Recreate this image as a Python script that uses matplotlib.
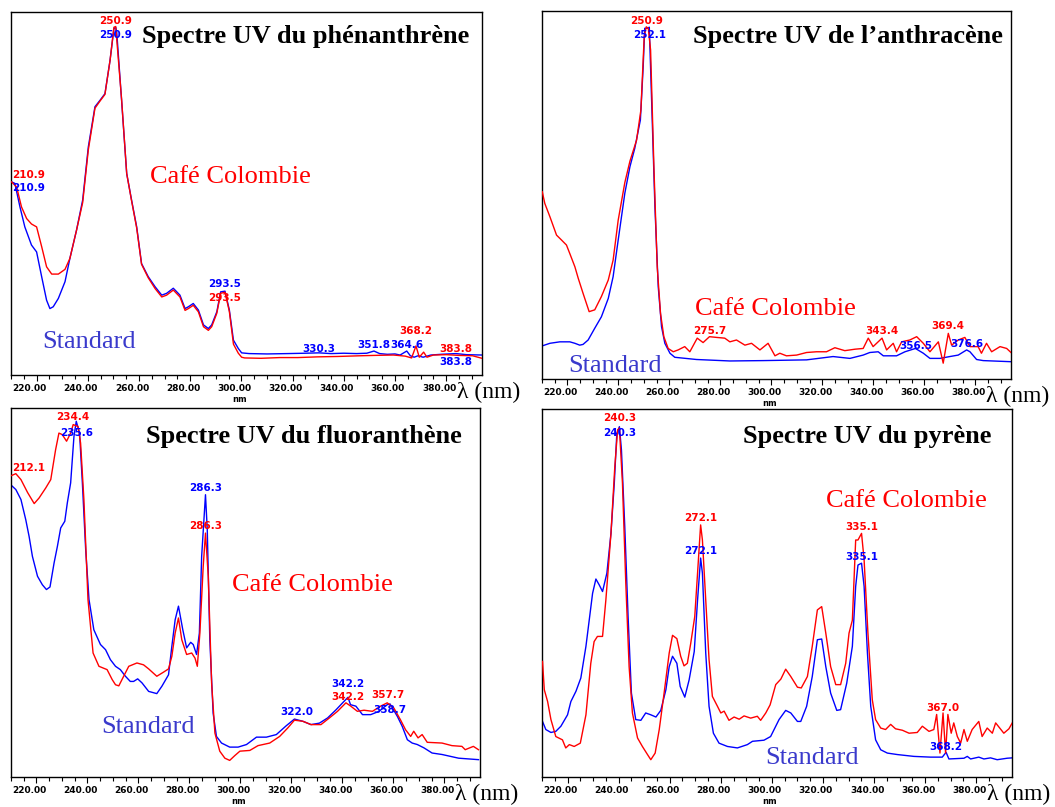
import matplotlib
matplotlib.use("Agg")
import matplotlib.pyplot as plt
from matplotlib.ticker import MultipleLocator
from matplotlib.transforms import ScaledTranslation

# ---------------- data ----------------
xtick_values = [220, 240, 260, 280, 300, 320, 340, 360, 380]
xtick_labels = ["220.00", "240.00", "260.00", "280.00", "300.00",
                "320.00", "340.00", "360.00", "380.00"]

# Phénanthrène
phen_std_wl = [210.2, 211.5, 213.5, 215.4, 218.0, 220.0, 222.0, 223.9, 225.2, 226.5, 228.5, 231.1,
               233.0, 235.6, 238.0, 240.2, 242.8, 244.8, 246.7, 248.7, 250.2, 250.9, 251.3, 253.2,
               255.2, 257.1, 259.1, 261.0, 263.6, 266.3, 268.9, 270.8, 273.4, 276.0, 278.0, 279.3,
               281.2, 283.2, 285.2, 287.1, 288.4, 290.4, 291.9, 293.6, 295.3, 296.9, 298.8, 300.1,
               303.0, 310.0, 318.0, 325.0, 330.3, 335.0, 340.0, 345.0, 349.0, 351.8, 354.0, 357.0,
               360.0, 362.0, 364.6, 366.0, 367.5, 369.0, 371.0, 374.0, 378.0, 383.8, 388.0, 394.0]
phen_std_abs = [53.2, 52.8, 46.3, 40.8, 35.8, 33.9, 27.0, 20.6, 18.3, 18.8, 21.1, 25.7,
                32.1, 39.9, 48.2, 62.8, 73.9, 75.7, 77.5, 86.7, 95.4, 95.8, 94.5, 75.7,
                55.5, 48.2, 40.8, 30.7, 27.1, 24.3, 22.0, 22.5, 23.9, 22.0, 18.3, 18.8,
                19.7, 17.9, 13.8, 12.8, 13.8, 17.4, 22.9, 23.1, 17.9, 9.6, 7.3, 6.1,
                5.9, 5.8, 5.9, 6.0, 6.1, 5.9, 6.0, 5.9, 6.0, 6.6, 5.9, 5.7,
                5.8, 5.5, 6.6, 5.3, 4.9, 5.3, 4.9, 5.5, 5.7, 5.9, 5.6, 5.5]
phen_cafe_wl = [210.2, 212.2, 214.1, 216.1, 218.0, 220.0, 222.0, 223.9, 225.9, 228.5, 231.1, 233.0,
                235.6, 238.0, 240.2, 242.8, 244.8, 246.7, 248.7, 250.2, 250.9, 253.2, 255.2, 257.1,
                259.1, 261.0, 263.6, 266.3, 268.9, 270.8, 273.4, 276.0, 278.0, 279.3, 281.2, 283.2,
                285.2, 287.1, 288.4, 290.4, 291.9, 293.6, 295.3, 296.9, 298.8, 300.1, 301.3, 307.7,
                315.0, 322.0, 330.0, 337.4, 346.5, 352.0, 359.4, 364.0, 366.5, 368.2, 369.5, 371.2,
                372.5, 375.0, 380.0, 385.0, 390.3, 394.0]
phen_cafe_abs = [53.2, 51.8, 46.3, 43.1, 41.6, 40.8, 35.3, 29.8, 27.8, 27.8, 29.1, 32.1,
                 39.9, 47.5, 62.0, 73.5, 75.5, 77.3, 86.7, 95.8, 96.0, 76.0, 55.5, 48.0,
                 40.5, 30.5, 26.8, 23.8, 21.5, 22.0, 23.4, 21.5, 17.8, 18.3, 19.2, 17.4,
                 13.3, 12.3, 13.3, 17.0, 22.5, 22.8, 17.5, 8.5, 6.0, 4.9, 4.7, 4.6,
                 4.8, 4.8, 5.0, 5.1, 5.3, 5.4, 5.5, 5.2, 4.7, 8.0, 4.9, 6.3,
                 4.9, 5.5, 5.6, 5.4, 5.3, 4.6]

# Anthracène
anth_std_wl = [210.1, 213.1, 217.0, 220.9, 222.9, 224.8, 226.1, 228.1, 230.7, 233.3, 236.0, 237.9,
               239.9, 242.5, 244.5, 246.4, 248.6, 249.7, 250.3, 251.3, 252.1, 253.0, 254.3, 255.6,
               256.9, 258.2, 260.2, 262.1, 270.6, 283.7, 296.8, 313.8, 324.2, 330.8, 336.0, 338.6,
               341.9, 343.9, 349.1, 352.4, 356.5, 359.6, 362.2, 366.1, 370.0, 373.3, 376.6, 377.9,
               380.5, 383.1, 394.0]
anth_std_abs = [9.0, 9.7, 10.1, 10.1, 9.7, 9.2, 9.4, 10.6, 13.8, 16.9, 21.9, 27.8,
                37.8, 50.5, 57.7, 62.7, 70.4, 84.9, 95.3, 95.3, 95.6, 75.8, 46.8, 25.1,
                14.2, 9.7, 7.0, 5.9, 5.3, 4.9, 5.0, 5.2, 6.1, 5.6, 6.5, 7.2,
                7.4, 6.3, 6.3, 7.4, 8.3, 7.0, 5.6, 5.6, 6.1, 6.5, 7.9, 7.4,
                5.3, 5.0, 4.7]
anth_cafe_wl = [210.1, 211.1, 213.1, 215.7, 217.6, 219.6, 220.9, 222.9, 224.2, 226.1, 228.5, 230.7,
                233.3, 236.0, 237.9, 239.9, 242.5, 244.5, 247.1, 248.8, 250.1, 250.9, 251.7, 252.6,
                253.9, 255.2, 256.5, 257.8, 259.5, 261.5, 263.4, 266.0, 268.0, 270.9, 273.2, 275.7,
                278.5, 281.7, 283.7, 286.3, 289.6, 292.2, 295.5, 298.7, 301.4, 303.3, 305.9, 309.9,
                313.8, 317.7, 321.6, 324.9, 328.8, 332.8, 336.0, 338.0, 339.9, 343.4, 345.2, 347.8,
                349.1, 351.1, 354.3, 357.0, 359.6, 362.2, 365.5, 367.4, 369.4, 370.7, 373.3, 375.9,
                377.9, 381.1, 382.4, 384.4, 386.4, 389.7, 392.3, 394.0]
anth_cafe_abs = [50.9, 47.7, 44.1, 39.1, 37.8, 36.4, 34.1, 30.5, 27.4, 23.3, 18.3, 18.8,
                 22.4, 26.9, 32.3, 43.2, 53.4, 59.2, 64.9, 73.1, 93.0, 95.7, 95.3, 89.4,
                 57.7, 30.5, 17.8, 11.5, 8.3, 7.4, 7.9, 8.8, 7.4, 11.1, 9.9, 11.5,
                 11.3, 11.1, 10.1, 10.6, 9.2, 9.7, 7.9, 9.7, 6.3, 7.0, 6.3, 6.5,
                 7.2, 7.4, 7.4, 8.5, 7.7, 8.1, 8.3, 11.1, 8.8, 11.1, 7.9, 9.7,
                 7.4, 10.1, 10.6, 11.5, 9.7, 7.4, 10.1, 4.3, 12.4, 9.2, 10.6, 11.3,
                 8.8, 8.8, 7.0, 9.7, 7.4, 8.8, 8.3, 7.2]

# Fluoranthène
fluo_std_wl = [210.2, 211.9, 213.9, 215.8, 217.1, 218.4, 220.4, 222.3, 223.9, 225.3, 226.9, 228.2,
               229.5, 231.1, 232.1, 233.4, 234.7, 235.6, 236.9, 238.0, 239.3, 240.6, 242.5, 245.1,
               247.1, 249.0, 251.0, 252.9, 254.9, 256.8, 258.1, 259.7, 261.4, 264.0, 267.2, 269.2,
               271.8, 273.1, 274.4, 275.7, 277.4, 278.9, 280.5, 281.5, 282.8, 283.9, 284.8, 286.3,
               287.0, 288.0, 289.3, 290.6, 292.6, 295.8, 299.1, 302.4, 306.3, 310.2, 314.1, 318.0,
               321.2, 324.5, 327.7, 331.0, 334.2, 337.5, 340.1, 342.2, 343.2, 345.3, 347.9, 351.1,
               354.4, 357.6, 358.7, 361.6, 363.5, 365.5, 367.4, 369.4, 372.0, 375.2, 379.1, 385.6,
               393.4]
fluo_std_abs = [79.0, 77.9, 75.2, 69.7, 65.2, 59.8, 54.4, 52.1, 50.8, 51.5, 58.0, 62.5,
                67.5, 69.3, 74.3, 79.7, 92.3, 96.4, 93.2, 79.7, 61.6, 48.1, 39.9, 35.9,
                34.5, 31.8, 30.0, 29.1, 27.3, 25.9, 25.9, 26.6, 25.5, 23.2, 22.6, 24.6,
                27.7, 35.4, 42.6, 46.3, 39.9, 35.0, 36.5, 35.9, 33.2, 39.0, 59.8, 76.5,
                67.0, 37.2, 17.3, 11.0, 9.2, 8.1, 8.1, 8.8, 10.8, 10.8, 11.5, 13.9,
                15.7, 15.1, 14.2, 14.6, 16.0, 18.2, 20.1, 21.6, 19.6, 19.2, 16.9, 16.9,
                17.8, 19.6, 19.8, 16.4, 13.7, 10.1, 9.2, 8.8, 7.9, 6.5, 6.1, 5.1,
                4.7]
fluo_cafe_wl = [210.2, 211.9, 213.9, 216.5, 219.1, 221.0, 223.6, 225.6, 227.5, 228.8, 230.1, 231.8,
                233.4, 234.4, 236.3, 237.3, 238.6, 240.2, 242.2, 244.5, 247.7, 249.7, 251.0, 252.3,
                254.2, 256.2, 259.4, 262.0, 264.0, 267.2, 269.8, 271.8, 273.1, 274.4, 275.7, 277.0,
                278.9, 280.9, 282.2, 283.1, 284.1, 285.4, 286.3, 287.4, 288.7, 290.0, 291.9, 293.9,
                295.8, 297.8, 299.8, 303.7, 306.9, 311.5, 315.4, 318.6, 321.2, 324.5, 327.7, 331.6,
                334.9, 338.1, 341.4, 343.3, 345.9, 348.5, 351.8, 355.0, 357.6, 360.2, 362.8, 364.8,
                366.8, 368.0, 369.7, 371.3, 373.3, 379.1, 383.0, 386.9, 388.2, 391.4, 393.4]
fluo_cafe_abs = [81.7, 82.2, 80.6, 77.1, 74.1, 75.6, 78.3, 80.6, 88.7, 93.2, 92.8, 91.0,
                 93.2, 95.5, 95.0, 90.5, 75.2, 48.1, 33.6, 30.0, 29.1, 26.4, 25.0, 24.7,
                 27.3, 30.0, 30.9, 30.4, 29.3, 27.3, 28.4, 29.3, 32.7, 39.0, 43.1, 37.2,
                 33.2, 33.6, 32.2, 30.0, 39.0, 57.0, 66.1, 54.3, 25.5, 11.9, 7.0, 5.1,
                 4.5, 5.8, 7.0, 7.2, 8.5, 9.2, 11.0, 13.3, 15.4, 15.1, 14.2, 14.2,
                 16.0, 17.8, 20.1, 19.2, 17.8, 18.1, 17.8, 19.2, 20.1, 18.7, 15.5, 12.8,
                 11.0, 12.4, 10.6, 11.5, 9.4, 9.2, 8.5, 8.3, 7.4, 8.3, 7.4]

# Pyrène
pyr_std_wl = [210.2, 211.5, 213.5, 215.4, 217.4, 220.0, 221.3, 223.3, 225.2, 227.2, 228.5, 229.8,
              231.1, 232.4, 233.7, 235.4, 237.0, 238.3, 239.3, 240.3, 241.1, 242.4, 243.7, 245.0,
              246.7, 248.7, 250.6, 252.6, 254.6, 256.5, 258.5, 259.8, 261.1, 262.8, 264.1, 265.9,
              267.6, 269.6, 270.9, 272.1, 272.8, 274.1, 275.4, 277.1, 279.3, 282.6, 286.5, 290.4,
              292.4, 296.9, 299.5, 302.8, 305.4, 307.4, 310.0, 311.3, 313.6, 315.8, 317.8, 319.5,
              321.1, 323.0, 325.4, 326.9, 329.3, 331.5, 332.8, 333.7, 335.1, 336.1, 337.4, 338.7,
              340.6, 342.6, 345.2, 349.1, 355.6, 362.1, 366.7, 368.2, 369.3, 375.2, 376.5, 377.8,
              381.0, 383.0, 385.6, 388.2, 392.1, 394.1]
pyr_std_abs = [15.1, 12.9, 12.1, 12.4, 13.8, 16.9, 20.5, 23.3, 26.9, 35.5, 42.7, 49.9,
               53.8, 52.2, 50.4, 55.4, 66.2, 79.8, 93.4, 95.2, 88.9, 68.1, 43.6, 22.8,
               15.6, 15.4, 17.4, 16.9, 16.3, 18.1, 23.7, 30.0, 32.8, 30.9, 24.6, 21.7,
               26.4, 34.1, 48.1, 59.5, 55.4, 33.7, 19.2, 11.9, 9.2, 8.3, 7.9, 8.8,
               9.7, 10.0, 11.0, 15.6, 18.1, 17.4, 15.1, 15.1, 19.2, 27.3, 37.3, 37.5,
               30.0, 22.8, 18.1, 18.3, 25.5, 35.5, 51.8, 57.6, 58.1, 51.8, 33.7, 19.2,
               10.1, 7.4, 6.5, 6.1, 5.6, 5.4, 5.4, 6.7, 4.9, 5.1, 5.6, 4.9,
               5.4, 4.9, 5.2, 4.7, 5.1, 5.2]
pyr_cafe_wl = [210.2, 210.9, 212.2, 213.5, 215.4, 218.0, 219.3, 220.7, 222.6, 225.0, 227.2, 229.1,
               230.4, 231.7, 233.7, 235.0, 237.0, 238.5, 239.6, 240.3, 241.5, 242.8, 244.1, 245.4,
               247.4, 249.3, 251.3, 252.6, 254.3, 255.9, 257.8, 259.8, 261.1, 262.8, 264.3, 265.6,
               266.9, 268.2, 269.8, 270.9, 272.1, 272.8, 274.1, 275.4, 276.7, 278.7, 280.0, 281.3,
               283.2, 285.2, 287.2, 289.1, 291.7, 294.3, 295.6, 297.6, 299.3, 301.5, 303.5, 305.4,
               307.4, 310.0, 311.5, 313.9, 315.8, 317.8, 319.5, 321.1, 323.0, 325.0, 326.9, 328.9,
               330.2, 331.5, 332.8, 333.7, 335.1, 336.1, 337.6, 339.3, 340.6, 342.6, 344.5, 346.5,
               348.4, 351.1, 353.7, 356.9, 358.9, 361.5, 363.4, 364.5, 365.8, 367.0, 368.0, 368.9,
               370.2, 371.2, 372.6, 373.9, 375.2, 376.5, 378.4, 381.0, 382.3, 384.3, 386.3, 387.6,
               390.8, 392.8, 394.1]
pyr_cafe_abs = [31.4, 23.7, 20.5, 15.6, 11.0, 10.1, 7.9, 8.8, 8.3, 9.2, 16.9, 30.9,
                36.8, 38.2, 38.2, 48.1, 66.2, 84.3, 94.3, 94.8, 79.8, 52.7, 30.0, 17.4,
                10.6, 8.3, 6.1, 4.7, 6.5, 12.9, 22.8, 33.7, 38.5, 37.6, 32.8, 30.2,
                30.9, 36.2, 43.6, 55.4, 68.5, 64.4, 48.1, 31.9, 21.9, 19.2, 17.4, 17.9,
                15.4, 16.3, 15.7, 16.6, 16.0, 16.5, 15.4, 17.4, 19.6, 25.1, 26.6, 29.3,
                27.3, 24.4, 24.2, 27.3, 35.5, 45.4, 46.3, 39.1, 30.0, 25.1, 25.1, 30.9,
                39.1, 42.6, 64.4, 64.4, 66.2, 59.0, 39.1, 21.0, 15.6, 13.3, 12.9, 14.3,
                13.1, 12.7, 11.9, 12.1, 13.8, 12.4, 12.9, 17.0, 6.5, 17.4, 6.5, 17.0,
                11.9, 14.7, 11.0, 9.2, 12.9, 9.7, 12.9, 15.1, 11.0, 13.3, 11.9, 14.7,
                11.9, 13.1, 14.7]

# peak labels: (text, wavelength, height, series)
phen_labels = [("250.9", 250.9, 97.4, "cafe"), ("250.9", 250.9, 93.6, "std"),
               ("210.9", 210.9, 55.0, "cafe"), ("210.9", 210.9, 51.4, "std"),
               ("293.5", 293.5, 25.0, "std"), ("293.5", 293.5, 21.3, "cafe"),
               ("330.3", 330.3, 7.3, "std"), ("351.8", 351.8, 8.3, "std"),
               ("364.6", 364.6, 8.3, "std"), ("368.2", 368.2, 12.1, "cafe"),
               ("383.8", 383.8, 7.3, "cafe"), ("383.8", 383.8, 3.7, "std")]
anth_labels = [("250.9", 250.9, 97.3, "cafe"), ("252.1", 252.1, 93.5, "std"),
               ("275.7", 275.7, 13.0, "cafe"), ("343.4", 343.4, 13.0, "cafe"),
               ("369.4", 369.4, 14.4, "cafe"), ("356.5", 356.5, 9.0, "std"),
               ("376.6", 376.6, 9.5, "std")]
fluo_labels = [("234.4", 234.4, 97.6, "cafe"), ("235.6", 235.6, 93.2, "std"),
               ("212.1", 212.1, 83.7, "cafe"), ("286.3", 286.3, 78.3, "std"),
               ("286.3", 286.3, 67.9, "cafe"), ("322.0", 322.0, 17.6, "std"),
               ("342.2", 342.2, 25.3, "std"), ("342.2", 342.2, 21.7, "cafe"),
               ("357.7", 357.7, 22.1, "cafe"), ("358.7", 358.7, 18.2, "std")]
pyr_labels = [("240.3", 240.3, 97.5, "cafe"), ("240.3", 240.3, 93.4, "std"),
              ("272.1", 272.1, 70.3, "cafe"), ("272.1", 272.1, 61.3, "std"),
              ("335.1", 335.1, 67.9, "cafe"), ("335.1", 335.1, 59.9, "std"),
              ("367.0", 367.0, 18.7, "cafe"), ("368.2", 368.2, 8.1, "std")]

titles = ["Spectre UV du phénanthrène", "Spectre UV de l\u2019anthracène",
          "Spectre UV du fluoranthène", "Spectre UV du pyrène"]

# ---------------- drawing ----------------
RED = "#ff0000"
BLUE = "#0000ff"
STD_TXT = "#3a3acc"
SERIF = ["Liberation Serif", "DejaVu Serif"]

fig = plt.figure(figsize=(10.55, 8.07), dpi=100)

panels = [
    dict(rect=[11, 12, 482, 375], std=(phen_std_wl, phen_std_abs), cafe=(phen_cafe_wl, phen_cafe_abs),
         labels=phen_labels, title=titles[0], tpos=(0.972, 0.915), cpos=(0.295, 0.529), spos=(0.066, 0.074)),
    dict(rect=[542, 11, 1011, 379], std=(anth_std_wl, anth_std_abs), cafe=(anth_cafe_wl, anth_cafe_abs),
         labels=anth_labels, title=titles[1], tpos=(0.983, 0.913), cpos=(0.326, 0.174), spos=(0.055, 0.019)),
    dict(rect=[11, 408, 480, 777], std=(fluo_std_wl, fluo_std_abs), cafe=(fluo_cafe_wl, fluo_cafe_abs),
         labels=fluo_labels, title=titles[2], tpos=(0.962, 0.905), cpos=(0.471, 0.504), spos=(0.192, 0.119)),
    dict(rect=[542, 409, 1012, 777], std=(pyr_std_wl, pyr_std_abs), cafe=(pyr_cafe_wl, pyr_cafe_abs),
         labels=pyr_labels, title=titles[3], tpos=(0.957, 0.908), cpos=(0.604, 0.734), spos=(0.474, 0.035)),
]

W, H = 1055.0, 807.0
for p in panels:
    x0, y0, x1, y1 = p["rect"]
    ax = fig.add_axes([x0 / W, 1 - y1 / H, (x1 - x0) / W, (y1 - y0) / H])
    ax.plot(p["std"][0], p["std"][1], color=BLUE, lw=1.0, zorder=2)
    ax.plot(p["cafe"][0], p["cafe"][1], color=RED, lw=1.0, zorder=3)
    ax.set_xlim(210, 394)
    ax.set_ylim(0, 100)
    ax.set_yticks([])
    ax.set_xticks(xtick_values)
    ax.set_xticklabels(xtick_labels, fontsize=6.5, fontweight="bold", family="DejaVu Sans")
    ax.xaxis.set_minor_locator(MultipleLocator(5))
    ax.tick_params(axis="x", which="major", length=4, width=0.8, pad=2.5)
    ax.tick_params(axis="x", which="minor", length=3, width=0.8)
    off = ScaledTranslation(-7 / 100, 0, fig.dpi_scale_trans)
    for lab in ax.get_xticklabels():
        lab.set_transform(lab.get_transform() + off)
    for s in ax.spines.values():
        s.set_linewidth(1.0)
    ax.text(0.5 - 7 / (x1 - x0), -24 / (y1 - y0), "nm", transform=ax.transAxes,
            ha="center", va="center", fontsize=6, fontweight="bold")
    ax.text(1 - 25 / (x1 - x0), -17 / (y1 - y0), "\u03bb (nm)", transform=ax.transAxes,
            ha="left", va="center", fontsize=17, family=SERIF, clip_on=False)
    ax.text(p["tpos"][0], p["tpos"][1], p["title"], transform=ax.transAxes, ha="right",
            va="baseline", fontsize=19, fontweight="bold", family=SERIF)
    ax.text(p["cpos"][0], p["cpos"][1], "Café Colombie", transform=ax.transAxes, ha="left",
            va="baseline", fontsize=19, color=RED, family=SERIF)
    ax.text(p["spos"][0], p["spos"][1], "Standard", transform=ax.transAxes, ha="left",
            va="baseline", fontsize=19, color=STD_TXT, family=SERIF)
    for txt, wl, h, ser in p["labels"]:
        col = RED if ser == "cafe" else BLUE
        if wl < 214:
            ax.text(210.3, h, txt, ha="left", va="center", fontsize=7.5, fontweight="bold",
                    color=col, zorder=5)
        else:
            ax.text(wl, h, txt, ha="center", va="center", fontsize=7.5, fontweight="bold",
                    color=col, zorder=5)

fig.savefig("out.png", dpi=100)
